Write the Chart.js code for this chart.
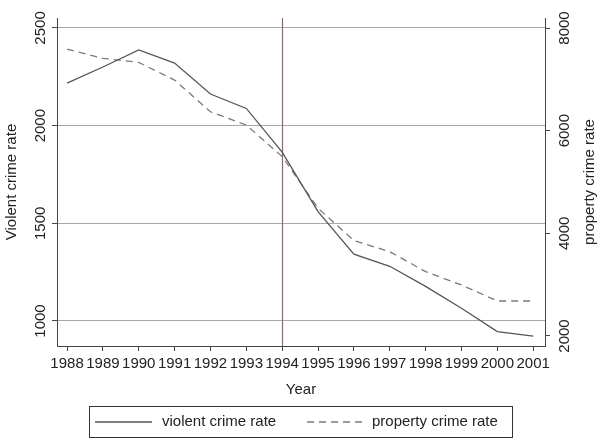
<!DOCTYPE html>
<html><head><meta charset="utf-8">
<script src="https://cdn.jsdelivr.net/npm/chart.js@4"></script>
<style>html,body{margin:0;padding:0;background:#fff}canvas{display:block}</style>
</head><body>
<canvas id="c" width="600" height="443"></canvas>
<script>
const years = [1988,1989,1990,1991,1992,1993,1994,1995,1996,1997,1998,1999,2000,2001];
const violentCrimeRate = [2218,2300,2388,2320,2162,2088,1864,1560,1342,1280,1177,1065,946,923];
const propertyCrimeRate = [7590,7410,7330,6986,6368,6109,5495,4490,3858,3643,3253,2994,2682,2682];
const violentTicks = [1000,1500,2000,2500];
const propertyTicks = [2000,4000,6000,8000];
const markerYear = 1994;
const xTitle = 'Year';
const leftTitle = 'Violent crime rate';
const rightTitle = 'property crime rate';
const FONT = '"Liberation Sans", Arial, sans-serif';

const overlay = {
  id: 'overlay',
  beforeDatasetsDraw(chart) {
    const {ctx, chartArea, scales} = chart;
    const x = Math.round(scales.x.getPixelForValue(markerYear)) + 0.5;
    ctx.save();
    ctx.strokeStyle = '#94637f';
    ctx.lineWidth = 1.2;
    ctx.beginPath();
    ctx.moveTo(x, chartArea.top);
    ctx.lineTo(x, chartArea.bottom);
    ctx.stroke();
    ctx.restore();
  },
  afterDraw(chart) {
    const {ctx, chartArea, scales} = chart;
    const midY = (chartArea.top + chartArea.bottom) / 2;
    ctx.save();
    ctx.fillStyle = '#222';
    ctx.font = '15px ' + FONT;
    ctx.textAlign = 'center';
    ctx.textBaseline = 'middle';
    const rot = (txt, x, y) => {
      ctx.save(); ctx.translate(x, y); ctx.rotate(-Math.PI / 2);
      ctx.fillText(txt, 0, 0); ctx.restore();
    };
    violentTicks.forEach(v => rot(String(v), 41, scales.y.getPixelForValue(v)));
    propertyTicks.forEach(v => rot(String(v), 565, scales.y2.getPixelForValue(v)));
    rot(leftTitle, 12, midY);
    rot(rightTitle, 590, midY);
    ctx.fillText(xTitle, (chartArea.left + chartArea.right) / 2, 390);

    // legend
    const bx = 89, by = 406, bw = 423, bh = 31;
    ctx.strokeStyle = '#333';
    ctx.lineWidth = 1;
    ctx.strokeRect(bx + 0.5, by + 0.5, bw, bh);
    const ly = by + bh / 2 + 0.5;
    const items = [{x: 95, len: 57, tx: 162}, {x: 307, len: 55, tx: 372}];
    chart.data.datasets.forEach((ds, i) => {
      const it = items[i];
      ctx.save();
      ctx.strokeStyle = ds.borderColor;
      ctx.lineWidth = ds.borderWidth;
      ctx.setLineDash(ds.borderDash || []);
      ctx.beginPath(); ctx.moveTo(it.x, ly); ctx.lineTo(it.x + it.len, ly); ctx.stroke();
      ctx.restore();
      ctx.textAlign = 'left';
      ctx.fillText(ds.label, it.tx, ly);
    });
    ctx.restore();
  }
};

new Chart(document.getElementById('c'), {
  type: 'line',
  data: {
    datasets: [
      {
        label: 'violent crime rate',
        data: years.map((y, i) => ({x: y, y: violentCrimeRate[i]})),
        yAxisID: 'y',
        borderColor: '#555',
        borderWidth: 1.3,
        pointRadius: 0,
        tension: 0
      },
      {
        label: 'property crime rate',
        data: years.map((y, i) => ({x: y, y: propertyCrimeRate[i]})),
        yAxisID: 'y2',
        borderColor: '#7a7a7a',
        borderWidth: 1.3,
        borderDash: [7, 5],
        pointRadius: 0,
        tension: 0
      }
    ]
  },
  options: {
    responsive: false,
    animation: false,
    devicePixelRatio: 1,
    layout: {padding: {top: 18, left: 0, right: 0, bottom: 0}},
    plugins: {legend: {display: false}, tooltip: {enabled: false}},
    scales: {
      x: {
        type: 'linear',
        position: 'bottom',
        min: 1987.72,
        max: 2001.33,
        afterBuildTicks: s => { s.ticks = years.map(v => ({value: v})); },
        afterFit: s => { s.height = 97; },
        ticks: {
          autoSkip: false, maxRotation: 0, minRotation: 0,
          color: '#222', font: {family: FONT, size: 15}, padding: 4,
          callback: v => String(v)
        },
        grid: {drawOnChartArea: false, drawTicks: true, tickLength: 5, color: '#444'},
        border: {display: true, color: '#444', width: 1}
      },
      y: {
        type: 'linear',
        position: 'left',
        min: 872,
        max: 2551,
        afterBuildTicks: s => { s.ticks = violentTicks.map(v => ({value: v})); },
        afterFit: s => { s.width = 57; },
        ticks: {display: false},
        grid: {color: '#a8a8a8', lineWidth: 1, tickLength: 5, tickColor: '#444'},
        border: {display: true, color: '#444', width: 1}
      },
      y2: {
        type: 'linear',
        position: 'right',
        min: 1805,
        max: 8195,
        afterBuildTicks: s => { s.ticks = propertyTicks.map(v => ({value: v})); },
        afterFit: s => { s.width = 55; },
        ticks: {display: false},
        grid: {drawOnChartArea: false, tickLength: 5, color: '#444'},
        border: {display: true, color: '#444', width: 1}
      }
    }
  },
  plugins: [overlay]
});
</script>
</body></html>
